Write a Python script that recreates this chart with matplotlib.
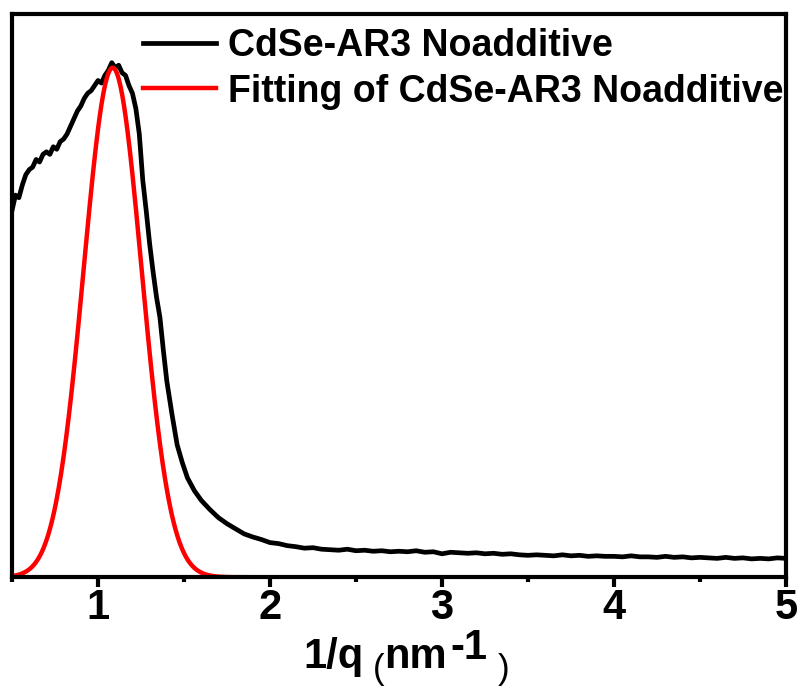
import matplotlib
matplotlib.use("Agg")
import matplotlib.pyplot as plt
import numpy as np

plt.rcParams["font.family"] = ["Liberation Sans", "DejaVu Sans"]
plt.rcParams["font.weight"] = "bold"

# measured curve (normalised intensity vs 1/q)
q_inv = [0.50, 0.52, 0.54, 0.56, 0.58, 0.60, 0.62, 0.64, 0.66, 0.68, 0.70, 0.72,
         0.74, 0.76, 0.78, 0.80, 0.82, 0.84, 0.86, 0.88, 0.90, 0.92, 0.94, 0.96,
         0.98, 1.00, 1.02, 1.04, 1.06, 1.08, 1.10, 1.12, 1.14, 1.16, 1.18, 1.20,
         1.22, 1.24, 1.26, 1.28, 1.30, 1.32, 1.34, 1.36, 1.38, 1.40, 1.43, 1.46,
         1.49, 1.52, 1.56, 1.60, 1.65, 1.70, 1.75, 1.80, 1.85, 1.90, 1.95, 2.00,
         2.05, 2.10, 2.15, 2.20, 2.25, 2.30, 2.35, 2.40, 2.45, 2.50, 2.55, 2.60,
         2.65, 2.70, 2.75, 2.80, 2.85, 2.90, 2.95, 3.00, 3.05, 3.10, 3.15, 3.20,
         3.25, 3.30, 3.35, 3.40, 3.45, 3.50, 3.55, 3.60, 3.65, 3.70, 3.75, 3.80,
         3.85, 3.90, 3.95, 4.00, 4.05, 4.10, 4.15, 4.20, 4.25, 4.30, 4.35, 4.40,
         4.45, 4.50, 4.55, 4.60, 4.65, 4.70, 4.75, 4.80, 4.85, 4.90, 4.95, 5.00]
intensity = [0.72, 0.75, 0.745, 0.77, 0.79, 0.80, 0.805, 0.82, 0.815, 0.83, 0.835, 0.83,
             0.845, 0.84, 0.855, 0.86, 0.87, 0.885, 0.90, 0.915, 0.925, 0.94, 0.95, 0.955,
             0.965, 0.975, 0.97, 0.985, 0.995, 1.01, 1.00, 1.005, 0.99, 0.985, 0.965, 0.95,
             0.92, 0.87, 0.78, 0.72, 0.655, 0.60, 0.55, 0.51, 0.445, 0.385, 0.32, 0.26,
             0.225, 0.195, 0.17, 0.151, 0.133, 0.117, 0.105, 0.095, 0.085, 0.079, 0.074, 0.068,
             0.066, 0.062, 0.060, 0.057, 0.058, 0.055, 0.054, 0.053, 0.055, 0.052, 0.053, 0.051,
             0.052, 0.050, 0.051, 0.050, 0.052, 0.049, 0.050, 0.046, 0.049, 0.048, 0.047, 0.048,
             0.046, 0.047, 0.045, 0.046, 0.044, 0.043, 0.044, 0.043, 0.042, 0.044, 0.042, 0.043,
             0.041, 0.042, 0.041, 0.041, 0.040, 0.042, 0.040, 0.040, 0.039, 0.041, 0.039, 0.040,
             0.038, 0.039, 0.038, 0.037, 0.039, 0.037, 0.038, 0.036, 0.037, 0.036, 0.038, 0.037]

# gaussian fit parameters
fit_amp = 1.0
fit_center = 1.085
fit_sigma = 0.168

labels = ["CdSe-AR3 Noadditive", "Fitting of CdSe-AR3 Noadditive"]

W, H = 802, 688
fig = plt.figure(figsize=(W / 100, H / 100), dpi=100)
ax = fig.add_axes([0.015, 0.161, 0.965, 0.819])

xf = np.linspace(0.5, 5.0, 900)
yf = fit_amp * np.exp(-(xf - fit_center) ** 2 / (2 * fit_sigma ** 2))

ax.plot(q_inv, intensity, color="black", lw=3.4, label=labels[0])
ax.plot(xf, yf, color="#ff0000", lw=3.2, label=labels[1])

ax.set_xlim(0.5, 5.0)
ax.set_ylim(0, 1.106)
ax.set_yticks([])
ax.set_xticks([1, 2, 3, 4, 5])
ax.set_xticks([0.5, 1.5, 2.5, 3.5, 4.5], minor=True)
ax.tick_params(axis="x", which="major", direction="out", length=7, width=3,
               labelsize=30, pad=1)
ax.tick_params(axis="x", which="minor", direction="out", length=3.5, width=3)
for t in ax.get_xticklabels():
    t.set_fontweight("bold")
for s in ax.spines.values():
    s.set_linewidth(3)

# x label built from pieces (Origin style: lowered parens, full-size raised exponent)
# (text, left px, baseline px, size, weight)
xlabel_parts = [("1/q", 303, 668, 30, "bold"), ("(", 373, 679, 25, "normal"),
                ("nm", 384, 668, 30, "bold"), ("-1", 450, 659, 30, "bold"),
                (")", 498, 679, 25, "normal")]
for txt, px, py, sz, wt in xlabel_parts:
    fig.text(px / W, 1 - py / H, txt, fontsize=sz, fontweight=wt,
             ha="left", va="baseline")

ax.legend(loc="upper right", bbox_to_anchor=(0.997, 0.975), frameon=False,
          handlelength=1.95, handletextpad=0.32, borderpad=0, borderaxespad=0,
          labelspacing=0.26, prop={"weight": "bold", "size": 27})

fig.savefig("out.png", dpi=100)
